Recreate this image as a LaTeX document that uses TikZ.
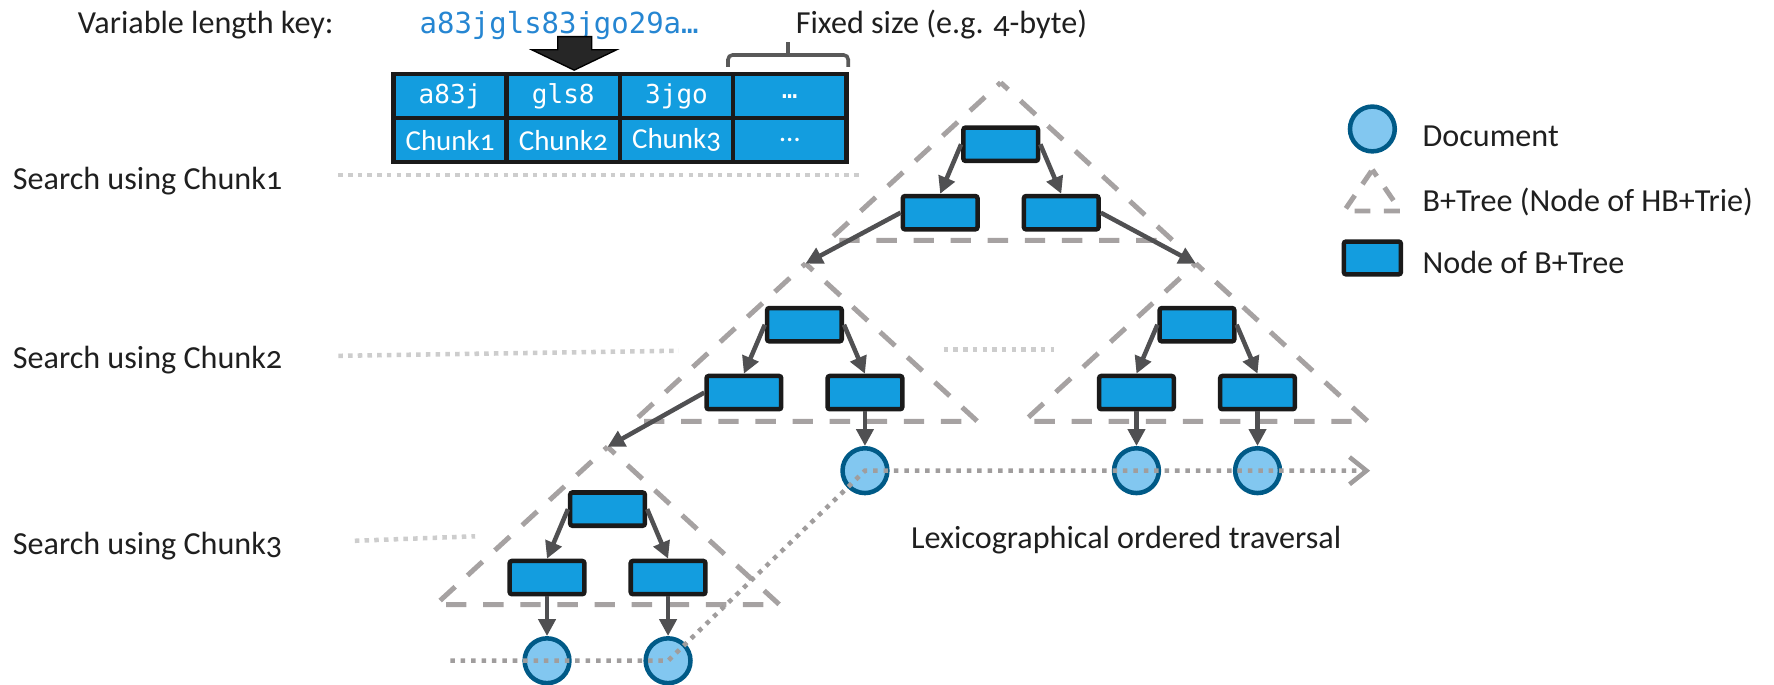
\documentclass[tikz,border=0pt]{standalone}
\usepackage{fontspec}
\setmainfont{Carlito}[Numbers=OldStyle]
\setmonofont{DejaVu Sans Mono}
\usetikzlibrary{arrows.meta}
\definecolor{nodeblue}{RGB}{19,157,223}
\definecolor{boxline}{RGB}{26,26,26}
\definecolor{docblue}{RGB}{0,90,135}
\definecolor{doclight}{RGB}{130,199,240}
\definecolor{edgegray}{RGB}{80,80,82}
\definecolor{triegray}{RGB}{166,162,162}
\definecolor{guidegray}{RGB}{205,205,205}
\definecolor{walkgray}{RGB}{160,157,157}
\definecolor{keyblue}{RGB}{38,134,210}

\begin{document}
\begin{tikzpicture}[
  x=0.5pt, y=-0.5pt,
  lbl/.style={font=\fontsize{14.2}{17}\selectfont, text=black!88, inner sep=0pt, anchor=base west},
  cell/.style={draw=boxline, line width=1.9pt, fill=nodeblue, text=white,
               minimum width=50pt, minimum height=19.4pt, inner sep=0pt},
  bnode/.style={draw=boxline, line width=2pt, fill=nodeblue, rounded corners=1pt,
                minimum width=33pt, minimum height=14.7pt, inner sep=0pt},
  doc/.style={circle, draw=docblue, fill=doclight, line width=2pt,
              minimum size=19.8pt, inner sep=0pt},
  trie/.style={draw=triegray, line width=2.2pt, dash pattern=on 9pt off 7.4pt, dash phase=4.5pt},
  arr/.style={-{Triangle[length=7.5pt,width=7.5pt]}, line width=2pt, draw=edgegray},
  guide/.style={draw=guidegray, line width=2pt, dash pattern=on 2pt off 2.3pt},
  walk/.style={draw=walkgray, line width=2pt, dash pattern=on 2pt off 2.6pt}
]
\useasboundingbox (0,0) rectangle (1568,605);

% key and its fixed-size chunks
\node[lbl] (keylbl) at (68.5,29.5) {Variable length key:};
\node[lbl, font=\fontsize{12.8}{15}\selectfont\ttfamily, text=keyblue] (key) at (370.5,29.5) {a83jgls83jgo29a…};
\node[lbl] (fixed) at (703,29.5) {Fixed size (e.g. 4-byte)};
\draw[fill=black!85, draw=black, line width=0.6pt]
  (493,32.4) -- (523,32.4) -- (523,44) -- (545,44) -- (507.5,62) -- (470,44) -- (493,44) -- cycle;
\draw[black!65, line width=1.6pt, rounded corners=2pt]
  (643.5,59) -- (643.5,48.6) -- (749.7,48.6) -- (749.7,59);
\draw[black!65, line width=1.6pt] (696.5,48.6) -- (696.5,36.8);

\node[cell, font=\fontsize{11.5}{13}\selectfont\ttfamily] (k1) at (397.8,85.1) {a83j};
\node[cell, font=\fontsize{11.5}{13}\selectfont\ttfamily] (k2) at (497.9,85.1) {gls8};
\node[cell, font=\fontsize{11.5}{13}\selectfont\ttfamily] (k3) at (598,85.1) {3jgo};
\node[cell, font=\fontsize{11.5}{13}\selectfont\ttfamily] (k4) at (698.1,85.1) {…};
\node[cell, font=\fontsize{12.8}{15}\selectfont] (c1) at (397.8,123.9) {Chunk1};
\node[cell, font=\fontsize{12.8}{15}\selectfont] (c2) at (497.9,123.9) {Chunk2};
\node[cell, font=\fontsize{12.8}{15}\selectfont] (c3) at (598,123.9) {Chunk3};
\node[cell, font=\fontsize{12.8}{15}\selectfont] (c4) at (698.1,123.9) {…};

% levels
\node[lbl] (s1) at (11,167.5) {Search using Chunk1};
\node[lbl] (s2) at (11,325.6) {Search using Chunk2};
\node[lbl] (s3) at (11,489.7) {Search using Chunk3};
\draw[guide] (299,154.5) -- (763,154.5);
\draw[guide] (299,314.5) -- (600,310);
\draw[guide] (834,309) -- (932,309);
\draw[guide] (313.6,478) -- (420,474);

% B+Trees of the HB+Trie
\coordinate (a1) at (884.5,73);
\coordinate (a2) at (712,233);
\coordinate (a3) at (1057,233);
\coordinate (a4) at (537,395);
\draw[trie] (a1) -- ++(152,139.5) -- ++(-304,0) -- cycle;
\draw[trie] (a2) -- ++(152,139.5) -- ++(-304,0) -- cycle;
\draw[trie] (a3) -- ++(152,139.5) -- ++(-304,0) -- cycle;
\draw[trie] (a4) -- ++(152,139.5) -- ++(-304,0) -- cycle;

\node[bnode] (r1) at (884.5,127.5) {};
\node[bnode] (l1) at (831,188) {};
\node[bnode] (m1) at (938,188) {};
\node[bnode] (r2) at (711,287) {};
\node[bnode] (l2) at (657.5,347) {};
\node[bnode] (m2) at (764.5,347) {};
\node[bnode] (r3) at (1058,287) {};
\node[bnode] (l3) at (1004.5,347) {};
\node[bnode] (m3) at (1111.5,347) {};
\node[bnode] (r4) at (537,450) {};
\node[bnode] (l4) at (483.5,510.5) {};
\node[bnode] (m4) at (590.5,510.5) {};

\node[doc] (d2) at (764.5,416) {};
\node[doc] (d3a) at (1004.5,416) {};
\node[doc] (d3b) at (1111.5,416) {};
\node[doc] (d4a) at (483.5,584) {};
\node[doc] (d4b) at (590.5,584) {};

\draw[arr] (r1.west) -- (l1.north);
\draw[arr] (r1.east) -- (m1.north);
\draw[arr] (l1.west) -- (a2);
\draw[arr] (m1.east) -- (a3);
\draw[arr] (r2.west) -- (l2.north);
\draw[arr] (r2.east) -- (m2.north);
\draw[arr] (l2.west) -- (a4);
\draw[arr] (m2) -- (d2);
\draw[arr] (r3.west) -- (l3.north);
\draw[arr] (r3.east) -- (m3.north);
\draw[arr] (l3) -- (d3a);
\draw[arr] (m3) -- (d3b);
\draw[arr] (r4.west) -- (l4.north);
\draw[arr] (r4.east) -- (m4.north);
\draw[arr] (l4) -- (d4a);
\draw[arr] (m4) -- (d4b);

% ordered walk over the documents
\coordinate (w0) at (398,584);
\coordinate (w1) at (1211,416);
\draw[walk, -{Straight Barb[length=7.5pt,width=12pt]}] (w0) -- (d4b.center) -- (d2.center) -- (w1);
\node[lbl] (walklbl) at (805,484.6) {Lexicographical ordered traversal};

% legend
\node[doc] (ldoc) at (1213,114) {};
\node[lbl] at (1257,129.6) {Document};
\draw[trie, dash pattern=on 7pt off 6pt, dash phase=3.5pt] (1213,150) -- (1238,186.5) -- (1188,186.5) -- cycle;
\node[lbl] at (1257,186.5) {B+Tree (Node of HB+Trie)};
\node[bnode, minimum width=25.2pt, minimum height=14.5pt] (lbox) at (1213,228) {};
\node[lbl] at (1257,241.6) {Node of B+Tree};
\end{tikzpicture}
\end{document}
